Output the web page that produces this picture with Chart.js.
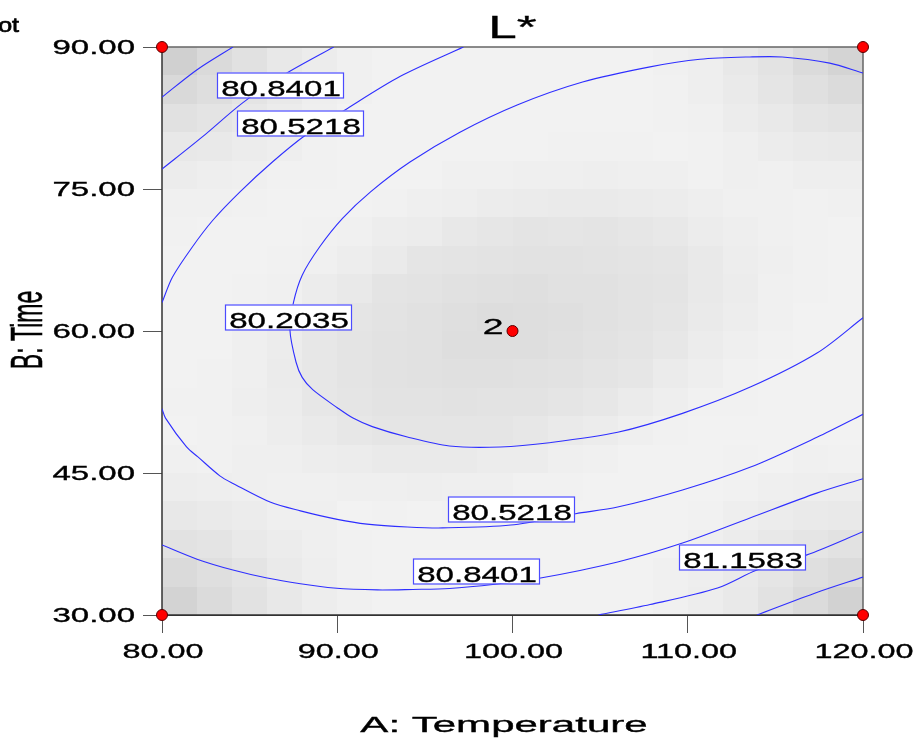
<!DOCTYPE html>
<html>
<head>
<meta charset="utf-8">
<script src="https://cdn.jsdelivr.net/npm/chart.js@4.4.1/dist/chart.umd.min.js"></script>
<style>
  html, body { margin: 0; padding: 0; background: #fff; }
  canvas { display: block; }
</style>
</head>
<body>
<canvas id="contour" width="918" height="738"></canvas>
<script>
// A: Temperature (x), B: Time (y)
const tempTicks = [80, 90, 100, 110, 120];
const timeTicks = [30, 45, 60, 75, 90];

// design runs: factorial corners and the centre point (2 replicates)
const designTemp = [80, 120, 80, 120, 100];
const designTime = [30, 30, 90, 90, 60];
const centreReps = 2;

const levels = [80.2035, 80.5218, 80.8401, 81.1583, 81.4766];

// contour traces as [temperature, time] pairs
const lvl80_2035 = [[120, 61.4], [117.4, 57.7], [113.6, 54.1], [109.7, 51.3], [106.0, 49.3], [102.1, 48.2],
  [99.3, 47.75], [96.4, 47.85], [94.0, 48.8], [92.0, 49.9], [90.9, 50.8], [90.0, 51.9], [88.6, 53.8],
  [88.0, 55.1], [87.65, 56.7], [87.3, 60.1], [87.5, 63.0], [88.0, 65.9], [89.0, 68.9], [90.3, 71.9],
  [91.9, 74.7], [94.15, 77.85], [97.0, 81.0], [100.3, 83.9], [104.0, 86.3], [107.85, 87.9], [110.7, 88.7],
  [113.55, 88.95], [115.4, 88.95], [118.1, 88.3], [120, 87.25]];
const lvl80_5218a = [[80, 63.0], [80.6, 65.7], [81.7, 68.8], [82.9, 71.7], [84.45, 74.7], [86.3, 77.85],
  [88.2, 80.7], [90.4, 83.3], [93.6, 86.9], [97.2, 90]];
const lvl80_5218b = [[80, 51.8], [80.2, 50.8], [81.4, 47.75], [82.05, 46.7], [83.3, 44.7], [84.05, 43.9],
  [86.2, 41.9], [87.9, 41.0], [90.0, 40.1], [91.7, 39.6], [94.0, 39.3], [96.0, 39.2], [99.9, 39.5],
  [103.6, 40.7], [106.0, 41.4], [109.7, 43.2], [113.55, 45.6], [117.4, 48.8], [120, 51.2]];
const lvl80_8401a = [[80, 77.1], [82.3, 80.5], [84.6, 84.1], [86.9, 87.0], [89.8, 90]];
const lvl80_8401b = [[80, 37.4], [82.0, 35.9], [84.05, 34.75], [86.0, 33.9], [87.9, 33.3], [89.8, 32.85],
  [92.3, 32.65], [94.3, 32.7], [96.4, 32.8], [99.0, 33.25], [101.6, 33.9], [106.0, 35.6], [109.7, 37.6],
  [113.55, 40.25], [117.4, 42.9], [120, 44.4]];
const lvl81_1583a = [[80, 84.7], [82.0, 87.6], [84.05, 90]];
const lvl81_1583b = [[104.9, 30], [107.85, 31.1], [111.7, 32.85], [113.95, 34.75], [116.8, 36.35], [120, 38.8]];
const lvl81_4766 = [[113.95, 30], [117.4, 32.4], [120, 34.0]];

const traces = [lvl80_2035, lvl80_5218a, lvl80_5218b, lvl80_8401a, lvl80_8401b, lvl81_1583a, lvl81_1583b, lvl81_4766];

// where each contour value is printed
const labelSpots = [
  { level: levels[2], at: [86.73, 85.95] },
  { level: levels[1], at: [87.87, 81.97] },
  { level: levels[0], at: [87.19, 61.48] },
  { level: levels[1], at: [99.91, 41.2] },
  { level: levels[2], at: [97.92, 34.6] },
  { level: levels[3], at: [113.1, 36.13] }
];

const FONT = '"Liberation Sans", Arial, sans-serif';

// horizontally widened text with a touch of extra weight
function wideText(ctx, text, x, y, size, sx, align, weight) {
  ctx.save();
  ctx.font = size + 'px ' + FONT;
  ctx.textAlign = align;
  ctx.textBaseline = 'alphabetic';
  ctx.translate(x, y);
  ctx.scale(sx, 1);
  ctx.fillStyle = '#000';
  ctx.fillText(text, 0, 0);
  ctx.strokeStyle = '#000';
  ctx.lineWidth = weight === undefined ? 0.35 : weight;
  ctx.strokeText(text, 0, 0);
  ctx.restore();
}

// blocky grey backdrop, then the frame
const backdrop = {
  id: 'backdrop',
  beforeDatasetsDraw(chart) {
    const { ctx, chartArea: a } = chart;
    const n = 20;
    const off = document.createElement('canvas');
    off.width = n;
    off.height = n;
    const g = off.getContext('2d');
    g.fillStyle = '#f2f2f2';
    g.fillRect(0, 0, n, n);

    g.save();
    g.translate(9.8, 10.0);
    g.rotate(-0.45);
    g.scale(1, 0.62);
    const rg = g.createRadialGradient(0, 0, 0, 0, 0, 10.5);
    rg.addColorStop(0, '#dcdcdc');
    rg.addColorStop(0.5, '#e5e5e5');
    rg.addColorStop(1, 'rgba(242,242,242,0)');
    g.fillStyle = rg;
    g.fillRect(-30, -30, 60, 60);
    g.restore();

    [[0, 0, '#c9c9c9'], [n, 0, '#cccccc'], [0, n, '#cbcbcb'], [n, n, '#cbcbcb']].forEach(([cx, cy, c]) => {
      const r = g.createRadialGradient(cx, cy, 0, cx, cy, 7);
      r.addColorStop(0, c);
      r.addColorStop(1, 'rgba(242,242,242,0)');
      g.fillStyle = r;
      g.fillRect(0, 0, n, n);
    });

    ctx.save();
    ctx.imageSmoothingEnabled = false;
    ctx.drawImage(off, a.left, a.top, a.right - a.left, a.bottom - a.top);
    ctx.lineWidth = 1.5;
    ctx.strokeStyle = '#666';
    ctx.beginPath();
    ctx.moveTo(a.left, a.top);
    ctx.lineTo(a.right, a.top);
    ctx.lineTo(a.right, a.bottom);
    ctx.stroke();
    ctx.strokeStyle = '#333';
    ctx.beginPath();
    ctx.moveTo(a.left, a.top);
    ctx.lineTo(a.left, a.bottom);
    ctx.lineTo(a.right, a.bottom);
    ctx.stroke();
    ctx.restore();
  }
};

// contour value boxes, run count, tick labels and titles
const annotate = {
  id: 'annotate',
  afterDatasetsDraw(chart) {
    const { ctx, chartArea: a } = chart;
    const xs = chart.scales.x, ys = chart.scales.y;

    labelSpots.forEach(({ level, at }) => {
      const x = Math.round(xs.getPixelForValue(at[0]));
      const y = Math.round(ys.getPixelForValue(at[1]));
      const w = 126, h = 25;
      ctx.fillStyle = '#fff';
      ctx.fillRect(x - w / 2, y - h / 2, w, h);
      ctx.strokeStyle = '#4b4bff';
      ctx.lineWidth = 1.2;
      ctx.strokeRect(x - w / 2 + 0.5, y - h / 2 + 0.5, w, h);
      wideText(ctx, level.toFixed(4), x + 1, y + 10.5, 22.5, 1.47, 'center');
    });

    const cx = xs.getPixelForValue(designTemp[4]);
    const cy = ys.getPixelForValue(designTime[4]);
    wideText(ctx, String(centreReps), cx - 9, cy + 3, 22, 1.7, 'right');

    ys.ticks.forEach(t => {
      wideText(ctx, t.value.toFixed(2), 135, ys.getPixelForValue(t.value) + 7, 20, 1.65, 'right');
    });
    xs.ticks.forEach(t => {
      wideText(ctx, t.value.toFixed(2), xs.getPixelForValue(t.value) + 1, 658, 20, 1.62, 'center');
    });

    wideText(ctx, 'L*', (a.left + a.right) / 2, 38, 32, 1.6, 'center');
    wideText(ctx, 'A: Temperature', 504, 732, 22, 1.91, 'center');
    wideText(ctx, 'Design-Expert\u00ae Plot', 19, 32, 20, 1.25, 'right', 0.7);

    ctx.save();
    ctx.translate(42, 330);
    ctx.rotate(-Math.PI / 2);
    ctx.scale(1, 1.9);
    ctx.font = '23px ' + FONT;
    ctx.textAlign = 'center';
    ctx.fillStyle = '#000';
    ctx.fillText('B: Time', 0, 0);
    ctx.strokeStyle = '#000';
    ctx.lineWidth = 0.3;
    ctx.strokeText('B: Time', 0, 0);
    ctx.restore();
  }
};

const datasets = [{
  label: 'Design points',
  data: designTemp.map((t, i) => ({ x: t, y: designTime[i] })),
  pointRadius: 5.5,
  pointBackgroundColor: '#ff0000',
  pointBorderColor: '#5a0000',
  pointBorderWidth: 1,
  showLine: false,
  clip: false,
  order: 0
}].concat(traces.map(tr => ({
  label: 'contour',
  data: tr.map(p => ({ x: p[0], y: p[1] })),
  showLine: true,
  borderColor: '#2e2eff',
  borderWidth: 1.1,
  pointRadius: 0,
  tension: 0.3,
  order: 1
})));

new Chart(document.getElementById('contour'), {
  type: 'scatter',
  data: { datasets },
  options: {
    responsive: false,
    animation: false,
    devicePixelRatio: 1,
    layout: { padding: { top: 47, right: 55, left: 0, bottom: 0 } },
    plugins: { legend: { display: false }, tooltip: { enabled: false } },
    scales: {
      x: {
        type: 'linear', min: 80, max: 120,
        afterBuildTicks: s => { s.ticks = tempTicks.map(v => ({ value: v })); },
        afterFit: s => { s.height = 123; },
        ticks: { display: false },
        grid: { drawOnChartArea: false, tickLength: 18, color: '#555' },
        border: { color: '#333' }
      },
      y: {
        type: 'linear', min: 30, max: 90,
        afterBuildTicks: s => { s.ticks = timeTicks.map(v => ({ value: v })); },
        afterFit: s => { s.width = 162; },
        ticks: { display: false },
        grid: { drawOnChartArea: false, tickLength: 19, color: '#555' },
        border: { color: '#333' }
      }
    }
  },
  plugins: [backdrop, annotate]
});
</script>
</body>
</html>
